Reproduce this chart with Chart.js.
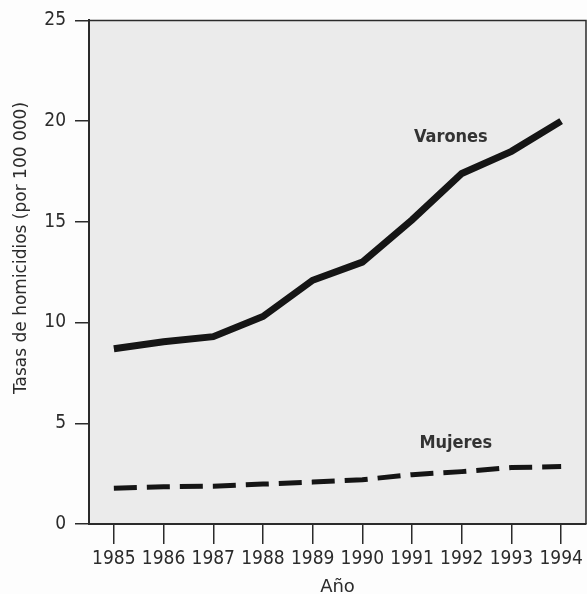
<!DOCTYPE html>
<html>
<head>
<meta charset="utf-8">
<script src="https://cdn.jsdelivr.net/npm/chart.js@4/dist/chart.umd.min.js"></script>
<style>
  html, body { margin: 0; padding: 0; background: #fdfdfd; }
  #wrap { width: 587px; height: 594px; }
</style>
</head>
<body>
<div id="wrap"><canvas id="chart" width="587" height="594"></canvas></div>
<script>
const years = ['1985', '1986', '1987', '1988', '1989', '1990', '1991', '1992', '1993', '1994'];
const varones = [8.7, 9.05, 9.3, 10.3, 12.1, 13.0, 15.1, 17.4, 18.5, 20.0];
const mujeres = [1.78, 1.85, 1.88, 1.98, 2.08, 2.2, 2.45, 2.6, 2.8, 2.85];
const yTicks = [0, 5, 10, 15, 20, 25];
// etiquetas dentro del gráfico: [texto, índice de categoría, valor]
const seriesLabels = [['Varones', 6.78, 19.2], ['Mujeres', 6.88, 4.0]];

const FONT = '"DejaVu Sans Condensed", "Liberation Sans Narrow", "DejaVu Sans", sans-serif';
const FONT_WIDE = '"DejaVu Sans", sans-serif';
const INK = '#2b2b2b';

// fondo gris y marco del área de trazado
const frame = {
    id: 'frame',
    beforeDraw(chart) {
        const { ctx, chartArea: a } = chart;
        ctx.save();
        ctx.fillStyle = '#ebebeb';
        ctx.fillRect(a.left, a.top, a.right - a.left, a.bottom - a.top);
        ctx.restore();
    },
    afterDraw(chart) {
        const { ctx, chartArea: a, scales } = chart;
        ctx.save();
        ctx.strokeStyle = INK;
        ctx.lineWidth = 1.5;
        ctx.beginPath();
        ctx.moveTo(a.left, a.top);
        ctx.lineTo(a.right, a.top);
        ctx.lineTo(a.right, a.bottom);
        ctx.stroke();

        // textos de las series
        ctx.fillStyle = '#333';
        ctx.font = 'bold 18px ' + FONT;
        ctx.textAlign = 'center';
        ctx.textBaseline = 'middle';
        seriesLabels.forEach(([txt, xi, yv]) => {
            ctx.fillText(txt, scales.x.getPixelForValue(xi), scales.y.getPixelForValue(yv));
        });

        // título del eje Y
        ctx.font = '17px ' + FONT_WIDE;
        ctx.fillStyle = INK;
        ctx.translate(22, 248);
        ctx.rotate(-Math.PI / 2);
        ctx.fillText('Tasas de homicidios (por 100 000)', 0, 0);
        ctx.restore();
    }
};

new Chart(document.getElementById('chart'), {
    type: 'line',
    data: {
        labels: years,
        datasets: [
            {
                label: 'Varones',
                data: varones,
                borderColor: '#151515',
                borderWidth: 7,
                pointRadius: 0,
                tension: 0,
                borderCapStyle: 'butt',
                borderJoinStyle: 'miter'
            },
            {
                label: 'Mujeres',
                data: mujeres,
                borderColor: '#151515',
                borderWidth: 5,
                borderDash: [23, 10],
                pointRadius: 0,
                tension: 0,
                borderCapStyle: 'butt'
            }
        ]
    },
    options: {
        responsive: false,
        animation: false,
        layout: { padding: { top: 19, right: 1, left: 0, bottom: 0 } },
        plugins: { legend: { display: false }, tooltip: { enabled: false } },
        scales: {
            x: {
                offset: true,
                grid: { drawOnChartArea: false, drawTicks: true, tickLength: 20, color: INK, lineWidth: 1.5 },
                border: { display: true, color: INK, width: 2 },
                ticks: { color: INK, font: { family: FONT, size: 19 }, padding: 4, maxRotation: 0, autoSkip: false },
                title: { display: true, text: 'Año', color: INK, font: { family: FONT_WIDE, size: 18, lineHeight: 1 }, padding: { top: 0, bottom: -2 } },
                afterFit(scale) { scale.height = 70; }
            },
            y: {
                min: 0,
                max: 25,
                afterBuildTicks(scale) { scale.ticks = yTicks.map(v => ({ value: v })); },
                grid: { drawOnChartArea: false, drawTicks: true, tickLength: 14, color: INK, lineWidth: 1.5 },
                border: { display: true, color: INK, width: 2 },
                ticks: { color: INK, font: { family: FONT, size: 19 }, padding: 9 },
                afterFit(scale) { scale.width = 89; }
            }
        }
    },
    plugins: [frame]
});
</script>
</body>
</html>
